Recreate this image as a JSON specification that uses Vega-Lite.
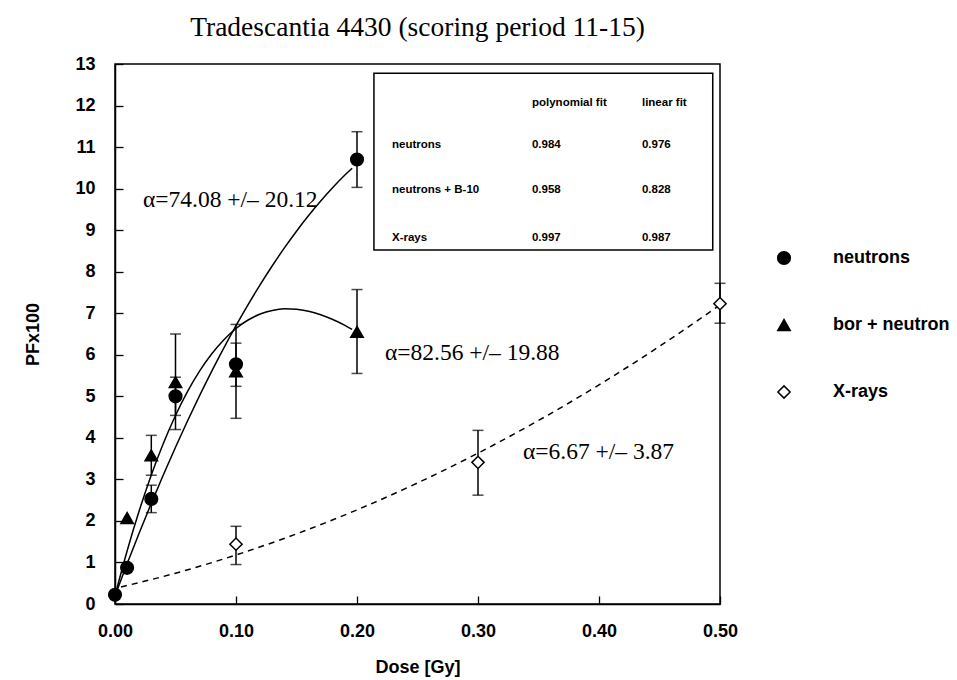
{
  "$schema": "https://vega.github.io/schema/vega-lite/v6.json",
  "width": 605,
  "height": 540,
  "autosize": {"type": "none"},
  "padding": {"left": 115, "top": 64, "right": 237, "bottom": 76},
  "background": "white",
  "title": {"text": "Tradescantia 4430 (scoring period 11-15)", "font": "Liberation Serif", "fontSize": 27.5, "fontWeight": "normal", "color": "black", "anchor": "middle", "offset": 14},
  "config": {
    "view": {"stroke": "black", "strokeWidth": 1.5},
    "axis": {"domainColor": "black", "domainWidth": 1.5, "tickColor": "black", "tickWidth": 1.3, "tickSize": -8, "labelFont": "Liberation Sans", "labelFontWeight": "bold", "labelFontSize": 18, "labelColor": "black", "titleFont": "Liberation Sans", "titleFontWeight": "bold", "titleFontSize": 18, "titleColor": "black", "grid": false}
  },
  "datasets": {
    "box": [{"x1": 0.214, "x2": 0.494, "y1": 8.52, "y2": 12.78}],
    "table": [
      {"x": 0.3446, "y": 12.06, "t": "polynomial fit"},
      {"x": 0.4355, "y": 12.06, "t": "linear fit"},
      {"x": 0.2289, "y": 11.05, "t": "neutrons"},
      {"x": 0.3446, "y": 11.05, "t": "0.984"},
      {"x": 0.4355, "y": 11.05, "t": "0.976"},
      {"x": 0.2289, "y": 9.97, "t": "neutrons + B-10"},
      {"x": 0.3446, "y": 9.97, "t": "0.958"},
      {"x": 0.4355, "y": 9.97, "t": "0.828"},
      {"x": 0.2289, "y": 8.81, "t": "X-rays"},
      {"x": 0.3446, "y": 8.81, "t": "0.997"},
      {"x": 0.4355, "y": 8.81, "t": "0.987"}
    ],
    "notes": [
      {"x": 0.0231, "y": 9.73, "t": "α=74.08 +/– 20.12"},
      {"x": 0.2231, "y": 6.04, "t": "α=82.56 +/– 19.88"},
      {"x": 0.3372, "y": 3.66, "t": "α=6.67 +/– 3.87"}
    ],
    "curves": [
      {"series": "neutrons", "dose": 0, "pf": 0.2},
      {"series": "neutrons", "dose": 0.01, "pf": 0.967},
      {"series": "neutrons", "dose": 0.02, "pf": 1.708},
      {"series": "neutrons", "dose": 0.03, "pf": 2.423},
      {"series": "neutrons", "dose": 0.04, "pf": 3.112},
      {"series": "neutrons", "dose": 0.05, "pf": 3.775},
      {"series": "neutrons", "dose": 0.06, "pf": 4.412},
      {"series": "neutrons", "dose": 0.07, "pf": 5.023},
      {"series": "neutrons", "dose": 0.08, "pf": 5.608},
      {"series": "neutrons", "dose": 0.09, "pf": 6.167},
      {"series": "neutrons", "dose": 0.10, "pf": 6.7},
      {"series": "neutrons", "dose": 0.11, "pf": 7.207},
      {"series": "neutrons", "dose": 0.12, "pf": 7.688},
      {"series": "neutrons", "dose": 0.13, "pf": 8.143},
      {"series": "neutrons", "dose": 0.14, "pf": 8.572},
      {"series": "neutrons", "dose": 0.15, "pf": 8.975},
      {"series": "neutrons", "dose": 0.16, "pf": 9.352},
      {"series": "neutrons", "dose": 0.17, "pf": 9.703},
      {"series": "neutrons", "dose": 0.18, "pf": 10.028},
      {"series": "neutrons", "dose": 0.19, "pf": 10.327},
      {"series": "neutrons", "dose": 0.196, "pf": 10.49},
      {"series": "bor", "dose": 0, "pf": 0.2},
      {"series": "bor", "dose": 0.01, "pf": 1.277},
      {"series": "bor", "dose": 0.02, "pf": 2.244},
      {"series": "bor", "dose": 0.03, "pf": 3.107},
      {"series": "bor", "dose": 0.04, "pf": 3.87},
      {"series": "bor", "dose": 0.05, "pf": 4.538},
      {"series": "bor", "dose": 0.06, "pf": 5.118},
      {"series": "bor", "dose": 0.07, "pf": 5.612},
      {"series": "bor", "dose": 0.08, "pf": 6.025},
      {"series": "bor", "dose": 0.09, "pf": 6.364},
      {"series": "bor", "dose": 0.10, "pf": 6.633},
      {"series": "bor", "dose": 0.11, "pf": 6.837},
      {"series": "bor", "dose": 0.12, "pf": 6.98},
      {"series": "bor", "dose": 0.13, "pf": 7.068},
      {"series": "bor", "dose": 0.14, "pf": 7.106},
      {"series": "bor", "dose": 0.15, "pf": 7.097},
      {"series": "bor", "dose": 0.16, "pf": 7.049},
      {"series": "bor", "dose": 0.17, "pf": 6.964},
      {"series": "bor", "dose": 0.18, "pf": 6.848},
      {"series": "bor", "dose": 0.19, "pf": 6.707},
      {"series": "bor", "dose": 0.196, "pf": 6.61}
    ],
    "xcurve": [
      {"dose": 0.005, "pf": 0.41},
      {"dose": 0.05, "pf": 0.741},
      {"dose": 0.10, "pf": 1.18},
      {"dose": 0.15, "pf": 1.688},
      {"dose": 0.20, "pf": 2.266},
      {"dose": 0.25, "pf": 2.914},
      {"dose": 0.30, "pf": 3.631},
      {"dose": 0.35, "pf": 4.419},
      {"dose": 0.40, "pf": 5.276},
      {"dose": 0.45, "pf": 6.203},
      {"dose": 0.50, "pf": 7.2}
    ],
    "err": [
      {"dose": 0.03, "lo": 2.2, "hi": 2.86},
      {"dose": 0.05, "lo": 4.54, "hi": 5.46},
      {"dose": 0.1, "lo": 5.24, "hi": 6.28},
      {"dose": 0.2, "lo": 10.03, "hi": 11.37},
      {"dose": 0.03, "lo": 3.1, "hi": 4.06},
      {"dose": 0.05, "lo": 4.2, "hi": 6.5},
      {"dose": 0.1, "lo": 4.47, "hi": 6.73},
      {"dose": 0.2, "lo": 5.55, "hi": 7.57},
      {"dose": 0.1, "lo": 0.95, "hi": 1.87},
      {"dose": 0.3, "lo": 2.62, "hi": 4.18},
      {"dose": 0.5, "lo": 6.76, "hi": 7.72}
    ],
    "pts": [
      {"series": "neutrons", "dose": 0, "pf": 0.22},
      {"series": "neutrons", "dose": 0.01, "pf": 0.87},
      {"series": "neutrons", "dose": 0.03, "pf": 2.53},
      {"series": "neutrons", "dose": 0.05, "pf": 5.0},
      {"series": "neutrons", "dose": 0.1, "pf": 5.77},
      {"series": "neutrons", "dose": 0.2, "pf": 10.7},
      {"series": "bor + neutron", "dose": 0.01, "pf": 2.07},
      {"series": "bor + neutron", "dose": 0.03, "pf": 3.58},
      {"series": "bor + neutron", "dose": 0.05, "pf": 5.34},
      {"series": "bor + neutron", "dose": 0.1, "pf": 5.6},
      {"series": "bor + neutron", "dose": 0.2, "pf": 6.55},
      {"series": "X-rays", "dose": 0.1, "pf": 1.44},
      {"series": "X-rays", "dose": 0.3, "pf": 3.41},
      {"series": "X-rays", "dose": 0.5, "pf": 7.23}
    ]
  },
  "layer": [
    {
      "data": {"name": "box"},
      "mark": {"type": "rect", "fill": "white", "stroke": "black", "strokeWidth": 1.5},
      "encoding": {
        "x": {"field": "x1", "type": "quantitative", "title": "Dose [Gy]", "scale": {"domain": [0, 0.5], "nice": false, "zero": false}, "axis": {"title": "Dose [Gy]", "values": [0, 0.1, 0.2, 0.3, 0.4, 0.5], "format": ".2f", "labelPadding": 26, "titlePadding": 18, "labelFlush": false}},
        "x2": {"field": "x2"},
        "y": {"field": "y1", "type": "quantitative", "title": "PFx100", "scale": {"domain": [0, 13], "nice": false}, "axis": {"title": "PFx100", "values": [0, 1, 2, 3, 4, 5, 6, 7, 8, 9, 10, 11, 12, 13], "labelPadding": 28, "titlePadding": 32, "labelFlush": false}},
        "y2": {"field": "y2"}
      }
    },
    {
      "data": {"name": "table"},
      "mark": {"type": "text", "align": "left", "baseline": "middle", "font": "Liberation Sans", "fontWeight": "bold", "fontSize": 11.5, "color": "black"},
      "encoding": {
        "x": {"field": "x", "type": "quantitative", "title": "Dose [Gy]"},
        "y": {"field": "y", "type": "quantitative", "title": "PFx100"},
        "text": {"field": "t"}
      }
    },
    {
      "data": {"name": "curves"},
      "mark": {"type": "line", "color": "black", "strokeWidth": 1.5, "interpolate": "monotone"},
      "encoding": {
        "x": {"field": "dose", "type": "quantitative", "title": "Dose [Gy]"},
        "y": {"field": "pf", "type": "quantitative", "title": "PFx100"},
        "detail": {"field": "series"}
      }
    },
    {
      "data": {"name": "xcurve"},
      "mark": {"type": "line", "color": "black", "strokeWidth": 1.5, "strokeDash": [6, 5], "interpolate": "monotone"},
      "encoding": {
        "x": {"field": "dose", "type": "quantitative", "title": "Dose [Gy]"},
        "y": {"field": "pf", "type": "quantitative", "title": "PFx100"}
      }
    },
    {
      "data": {"name": "err"},
      "mark": {"type": "errorbar", "ticks": {"size": 11, "thickness": 1.5, "color": "black"}, "rule": {"strokeWidth": 1.5, "color": "black"}, "color": "black"},
      "encoding": {
        "x": {"field": "dose", "type": "quantitative", "title": "Dose [Gy]"},
        "y": {"field": "lo", "type": "quantitative", "title": "PFx100"},
        "y2": {"field": "hi"}
      }
    },
    {
      "data": {"name": "pts"},
      "mark": {"type": "point", "filled": true, "stroke": "black", "strokeWidth": 1.5, "opacity": 1},
      "encoding": {
        "x": {"field": "dose", "type": "quantitative", "title": "Dose [Gy]"},
        "y": {"field": "pf", "type": "quantitative", "title": "PFx100"},
        "shape": {"field": "series", "type": "nominal", "scale": {"domain": ["neutrons", "bor + neutron", "X-rays"], "range": ["circle", "triangle-up", "diamond"]}, "legend": {"orient": "none", "legendX": 660, "legendY": 185, "title": null, "labelFont": "Liberation Sans", "labelFontWeight": "bold", "labelFontSize": 18, "labelColor": "black", "rowPadding": 48, "labelOffset": 40, "padding": 0, "encode": {"symbols": {"update": {"stroke": {"value": "black"}, "strokeWidth": {"value": 1.5}}}}}},
        "fill": {"field": "series", "type": "nominal", "scale": {"domain": ["neutrons", "bor + neutron", "X-rays"], "range": ["black", "black", "white"]}, "legend": {"orient": "none", "legendX": 660, "legendY": 185, "title": null, "labelFont": "Liberation Sans", "labelFontWeight": "bold", "labelFontSize": 18, "labelColor": "black", "rowPadding": 48, "labelOffset": 40, "padding": 0, "encode": {"symbols": {"update": {"stroke": {"value": "black"}, "strokeWidth": {"value": 1.5}}}}}},
        "size": {"field": "series", "type": "nominal", "scale": {"domain": ["neutrons", "bor + neutron", "X-rays"], "range": [160, 150, 110]}, "legend": {"orient": "none", "legendX": 660, "legendY": 185, "title": null, "labelFont": "Liberation Sans", "labelFontWeight": "bold", "labelFontSize": 18, "labelColor": "black", "rowPadding": 48, "labelOffset": 40, "padding": 0, "encode": {"symbols": {"update": {"stroke": {"value": "black"}, "strokeWidth": {"value": 1.5}}}}}}
      }
    },
    {
      "data": {"name": "notes"},
      "mark": {"type": "text", "align": "left", "baseline": "middle", "font": "Liberation Serif", "fontSize": 23.5, "color": "black"},
      "encoding": {
        "x": {"field": "x", "type": "quantitative", "title": "Dose [Gy]"},
        "y": {"field": "y", "type": "quantitative", "title": "PFx100"},
        "text": {"field": "t"}
      }
    }
  ]
}
